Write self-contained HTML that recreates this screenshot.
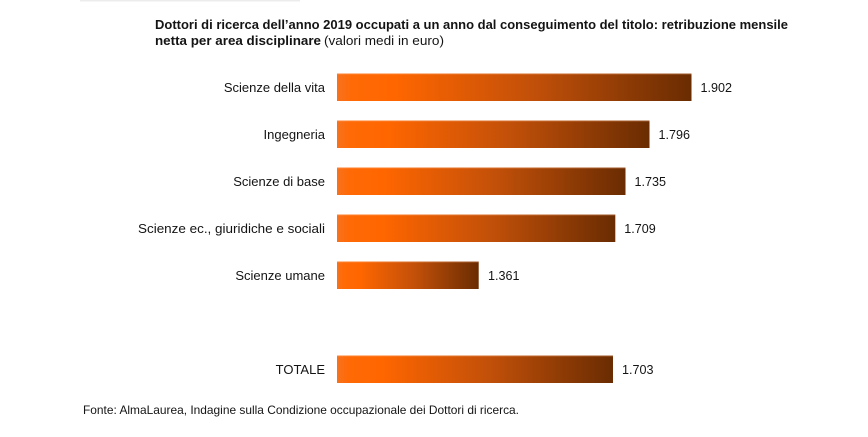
<!DOCTYPE html>
<html>
<head>
<meta charset="utf-8">
<style>
  html, body { margin: 0; padding: 0; background: #ffffff; }
  body { width: 868px; height: 437px; overflow: hidden; }
  svg { display: block; }
  text { font-family: "Liberation Sans", "DejaVu Sans", sans-serif; fill: #141414; }
</style>
</head>
<body>
<svg width="868" height="437" viewBox="0 0 868 437" xmlns="http://www.w3.org/2000/svg">
  <defs>
    <linearGradient id="g" x1="0" y1="0" x2="1" y2="0">
      <stop offset="0" stop-color="#f7721e"/>
      <stop offset="0.04" stop-color="#ff6a06"/>
      <stop offset="0.16" stop-color="#ff6600"/>
      <stop offset="0.55" stop-color="#c25009"/>
      <stop offset="1" stop-color="#6a2c02"/>
    </linearGradient>
  </defs>

  <!-- faint top artifact -->
  <rect x="80" y="0" width="220" height="1.5" fill="#ececec"/>

  <!-- Title -->
  <text x="155" y="29" font-size="13" font-weight="bold" textLength="633" lengthAdjust="spacingAndGlyphs">Dottori di ricerca dell’anno 2019 occupati a un anno dal conseguimento del titolo: retribuzione mensile</text>
  <text x="155" y="45" font-size="13" font-weight="bold" textLength="166" lengthAdjust="spacingAndGlyphs">netta per area disciplinare</text>
  <text x="324" y="45" font-size="13" textLength="120" lengthAdjust="spacingAndGlyphs">(valori medi in euro)</text>

  <!-- Bars -->
  <g>
    <rect x="337" y="73.5" width="354.5" height="27.5" fill="url(#g)"/>
    <rect x="337" y="120.5" width="312.5" height="27.5" fill="url(#g)"/>
    <rect x="337" y="167.5" width="288.5" height="27.5" fill="url(#g)"/>
    <rect x="337" y="214.5" width="278.3" height="27.5" fill="url(#g)"/>
    <rect x="337" y="261.5" width="141.7" height="27.5" fill="url(#g)"/>
    <rect x="337" y="355.5" width="276" height="27.5" fill="url(#g)"/>
  </g>
  <!-- subtle light edges -->
  <g fill="#ffb07a" opacity="0.35">
    <rect x="337" y="73.5" width="354.5" height="1"/>
    <rect x="337" y="120.5" width="312.5" height="1"/>
    <rect x="337" y="167.5" width="288.5" height="1"/>
    <rect x="337" y="214.5" width="278.3" height="1"/>
    <rect x="337" y="261.5" width="141.7" height="1"/>
    <rect x="337" y="355.5" width="276" height="1"/>
  </g>

  <!-- Category labels -->
  <g font-size="13" text-anchor="end">
    <text x="325" y="92">Scienze della vita</text>
    <text x="325" y="139">Ingegneria</text>
    <text x="325" y="186">Scienze di base</text>
    <text x="325" y="233" textLength="187" lengthAdjust="spacingAndGlyphs">Scienze ec., giuridiche e sociali</text>
    <text x="325" y="280">Scienze umane</text>
    <text x="325" y="374">TOTALE</text>
  </g>

  <!-- Values -->
  <g font-size="13">
    <text x="700.5" y="92" textLength="31.5" lengthAdjust="spacingAndGlyphs">1.902</text>
    <text x="658.5" y="139" textLength="31.5" lengthAdjust="spacingAndGlyphs">1.796</text>
    <text x="634.5" y="186" textLength="31.5" lengthAdjust="spacingAndGlyphs">1.735</text>
    <text x="624.3" y="233" textLength="31.5" lengthAdjust="spacingAndGlyphs">1.709</text>
    <text x="488" y="280" textLength="31.5" lengthAdjust="spacingAndGlyphs">1.361</text>
    <text x="622" y="374" textLength="31.5" lengthAdjust="spacingAndGlyphs">1.703</text>
  </g>

  <!-- Footer -->
  <text x="83" y="414" font-size="12" textLength="436" lengthAdjust="spacingAndGlyphs">Fonte: AlmaLaurea, Indagine sulla Condizione occupazionale dei Dottori di ricerca.</text>
</svg>
</body>
</html>
